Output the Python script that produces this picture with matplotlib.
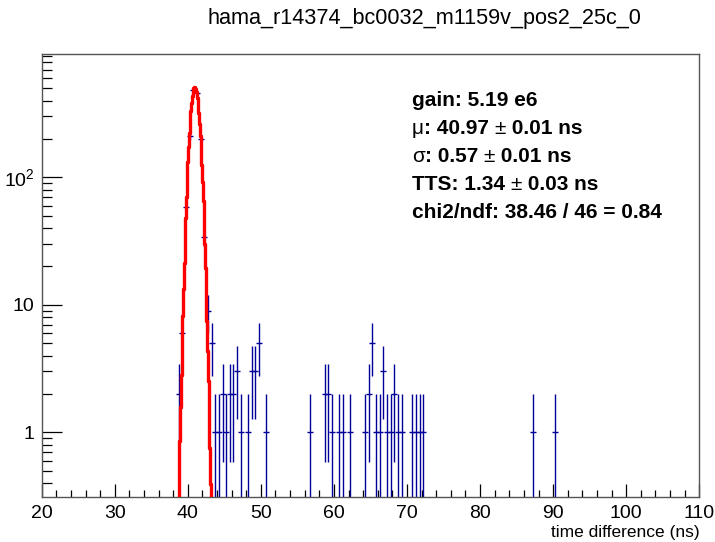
import numpy as np
import matplotlib
matplotlib.use("Agg")
import matplotlib.pyplot as plt
from matplotlib.ticker import FixedLocator, MultipleLocator, LogLocator, NullFormatter

plt.rcParams["font.family"] = ["Liberation Sans", "DejaVu Sans"]
plt.rcParams["mathtext.fontset"] = "custom"
plt.rcParams["mathtext.rm"] = "Liberation Sans"

# histogram bins (0.5 ns wide) that have entries, and their counts
bin_centers = [38.75, 39.25, 39.75, 40.25, 40.75, 41.25, 41.75, 42.25, 42.75, 43.25,
               43.75, 44.25, 44.75, 45.25, 45.75, 46.25, 46.75, 47.25,
               48.25, 48.75, 49.25, 49.75, 50.75,
               56.75,
               58.75, 59.25, 59.75,
               60.75, 61.25, 62.25,
               64.25, 64.75, 65.25, 65.75, 66.25, 66.75, 67.25, 67.75, 68.25, 68.75, 69.25,
               70.75, 71.25, 71.75, 72.25,
               87.25, 90.25]
counts = [2, 6, 58, 212, 480, 461, 200, 34, 9, 5,
          1, 1, 2, 1, 2, 2, 3, 1,
          1, 3, 3, 5, 1,
          1,
          2, 2, 1,
          1, 1, 1,
          1, 2, 5, 1, 1, 3, 1, 1, 2, 1, 1,
          1, 1, 1, 1,
          1, 1]

# gaussian fit result
fit_amp = 515.0
fit_mu = 40.94
fit_sigma = 0.57
fit_range = (38.3, 43.6)

title = "hama_r14374_bc0032_m1159v_pos2_25c_0"
stats_lines = [
    [("gain: 5.19 e6", "bold")],
    [("\u03bc", "normal"), (": 40.97 ", "bold"), ("\u00b1", "normal"), (" 0.01 ns", "bold")],
    [("\u03c3", "normal"), (": 0.57 ", "bold"), ("\u00b1", "normal"), (" 0.01 ns", "bold")],
    [("TTS: 1.34 ", "bold"), ("\u00b1", "normal"), (" 0.03 ns", "bold")],
    [("chi2/ndf: 38.46 / 46 = 0.84", "bold")],
]


def draw_line(ax, x, y, parts, fs):
    t = ax.text(x, y, parts[0][0], transform=ax.transAxes, fontsize=fs,
                fontweight=parts[0][1], ha="left", va="center")
    for s, w in parts[1:]:
        t = ax.annotate(s, xy=(1, 0), xycoords=t, fontsize=fs, fontweight=w,
                        ha="left", va="bottom")


def main():
    fig = plt.figure(figsize=(7.15, 5.42), dpi=100)
    ax = fig.add_axes([0.0583, 0.083, 0.9197, 0.8174])

    x = np.array(bin_centers)
    y = np.array(counts, dtype=float)
    err = np.sqrt(y)
    lo = np.maximum(y - err, 1e-3)
    hi = y + err

    blue = "#000099"
    ax.vlines(x, lo, hi, color=blue, lw=1.0, zorder=2)
    ax.plot(x, y, ls="none", marker="_", ms=4.5, mew=1.0, color=blue, zorder=2)

    # fitted gaussian, drawn in small steps like ROOT does
    xf = np.arange(fit_range[0], fit_range[1], 0.1)
    yf = fit_amp * np.exp(-0.5 * ((xf - fit_mu) / fit_sigma) ** 2)
    ax.plot(xf, yf, color="#ff0000", lw=2.4, drawstyle="steps-mid", zorder=3)

    ax.set_yscale("log")
    ax.set_xlim(20, 110)
    ax.set_ylim(0.311, 927)

    ax.xaxis.set_major_locator(MultipleLocator(10))
    ax.xaxis.set_minor_locator(MultipleLocator(2))
    ax.yaxis.set_major_locator(FixedLocator([1, 10, 100]))
    ax.yaxis.set_minor_locator(LogLocator(base=10, subs=np.arange(2, 10)))
    ax.yaxis.set_minor_formatter(NullFormatter())
    ax.set_yticklabels(["1", "10", r"$10^{2}$"])

    ax.tick_params(axis="both", which="both", direction="in", top=False, right=False,
                   labelsize=14, width=0.9, color="black")
    ax.tick_params(axis="x", which="major", length=9.5, pad=6)
    ax.tick_params(axis="x", which="minor", length=4.7)
    ax.tick_params(axis="y", which="major", length=14.4, pad=5)
    ax.tick_params(axis="y", which="minor", length=7.2)
    for sp in ax.spines.values():
        sp.set_color("#555555")
        sp.set_linewidth(1.0)

    ax.set_xlabel("time difference (ns)", fontsize=12.5, loc="right", labelpad=2)

    fig.text(0.593, 0.966, title, fontsize=15.6, ha="center", va="center")

    ys = [101, 129, 157, 185, 213]
    for line, yp in zip(stats_lines, ys):
        draw_line(ax, 0.563, (497 - yp) / 443.0, line, 15)

    fig.savefig("out.png", dpi=100)


if __name__ == "__main__":
    main()
